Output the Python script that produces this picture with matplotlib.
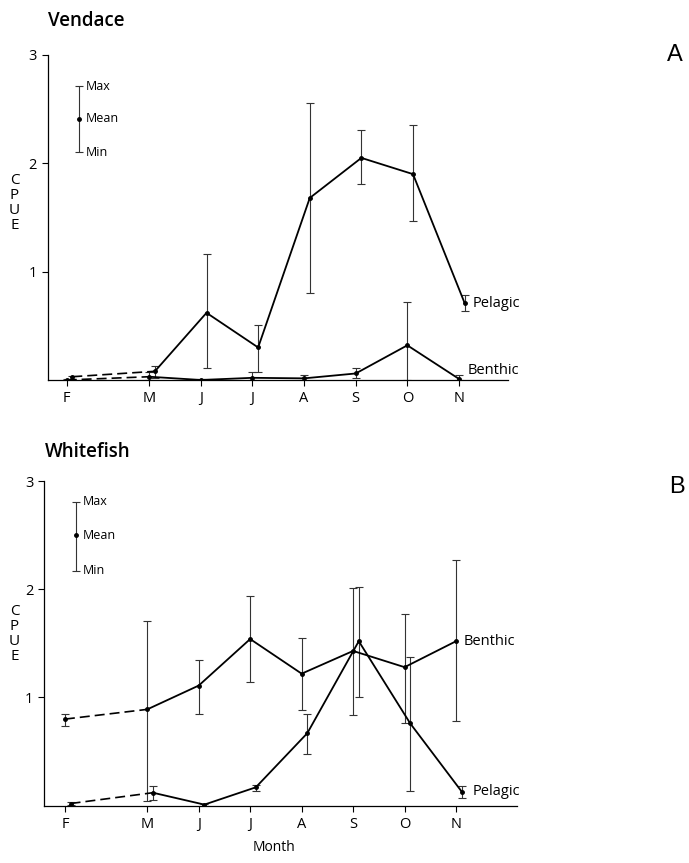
import matplotlib
matplotlib.use('Agg')
import matplotlib.pyplot as plt
import numpy as np

plt.rcParams['font.family'] = ['Open Sans', 'DejaVu Sans']

months = ['F', 'M', 'J', 'J', 'A', 'S', 'O', 'N']
month_pos = [0, 1.6, 2.6, 3.6, 4.6, 5.6, 6.6, 7.6]

# Vendace (panel A)
vendace_pel_mean = [0.03, 0.08, 0.62, 0.30, 1.68, 2.05, 1.90, 0.71]
vendace_pel_min = [0.01, 0.02, 0.11, 0.07, 0.80, 1.81, 1.47, 0.64]
vendace_pel_max = [0.04, 0.13, 1.16, 0.51, 2.56, 2.31, 2.35, 0.78]
vendace_ben_mean = [0.0, 0.03, 0.0, 0.02, 0.015, 0.06, 0.32, 0.01]
vendace_ben_min = [0.0, 0.0, 0.0, 0.0, 0.0, 0.02, 0.0, 0.0]
vendace_ben_max = [0.01, 0.07, 0.01, 0.07, 0.05, 0.11, 0.72, 0.05]

# Whitefish (panel B)
whitefish_ben_mean = [0.80, 0.89, 1.11, 1.54, 1.22, 1.43, 1.28, 1.52]
whitefish_ben_min = [0.74, 0.04, 0.85, 1.14, 0.88, 0.84, 0.76, 0.78]
whitefish_ben_max = [0.85, 1.71, 1.35, 1.94, 1.55, 2.01, 1.77, 2.27]
whitefish_pel_mean = [0.02, 0.12, 0.01, 0.17, 0.67, 1.52, 0.76, 0.13]
whitefish_pel_min = [0.01, 0.05, 0.0, 0.14, 0.48, 1.00, 0.14, 0.07]
whitefish_pel_max = [0.03, 0.18, 0.02, 0.19, 0.85, 2.02, 1.37, 0.18]

pel_offset = 0.11


def draw_series(ax, x, mean, lo, hi):
    x = np.array(x)
    mean = np.array(mean)
    err = [mean - np.array(lo), np.array(hi) - mean]
    ax.errorbar(x, mean, yerr=err, fmt='none', ecolor='#333333', elinewidth=0.8,
                capsize=3, capthick=0.8, zorder=2)
    ax.plot(x[:2], mean[:2], color='black', lw=1.2, ls=(0, (6, 3)), zorder=3)
    ax.plot(x[1:], mean[1:], color='black', lw=1.3, zorder=3)
    ax.plot(x, mean, 'o', color='black', ms=2.5, zorder=4)


def draw_panel(ax, ben, pel, xlim, key_x, key_vals):
    draw_series(ax, month_pos, *ben)
    draw_series(ax, np.array(month_pos) + pel_offset, *pel)

    # key: max / mean / min
    kmax, kmean, kmin = key_vals
    ax.errorbar([key_x], [kmean], yerr=[[kmean - kmin], [kmax - kmean]], fmt='o',
                color='black', ms=2.5, ecolor='#333333', elinewidth=0.8,
                capsize=3, capthick=0.8)
    ax.text(key_x + 0.13, kmax, 'Max', fontsize=9, va='center')
    ax.text(key_x + 0.13, kmean, 'Mean', fontsize=9, va='center')
    ax.text(key_x + 0.13, kmin, 'Min', fontsize=9, va='center')

    ax.set_xlim(*xlim)
    ax.set_ylim(0, 3)
    ax.set_xticks(month_pos)
    ax.set_xticklabels(months, fontsize=10.5)
    ax.set_yticks([1, 2, 3])
    ax.set_yticklabels(['1', '2', '3'], fontsize=10.5)
    ax.tick_params(direction='out', length=4, width=0.8, pad=4)
    ax.spines['top'].set_visible(False)
    ax.spines['right'].set_visible(False)
    ax.spines['left'].set_linewidth(0.9)
    ax.spines['bottom'].set_linewidth(0.9)
    ax.spines['left'].set_bounds(0, 3)


fig = plt.figure(figsize=(6.89, 8.63), dpi=100)

ax1 = fig.add_axes([0.0697, 0.5597, 0.6676, 0.3766])
draw_panel(ax1,
           (vendace_ben_mean, vendace_ben_min, vendace_ben_max),
           (vendace_pel_mean, vendace_pel_min, vendace_pel_max),
           (-0.36, 8.55), 0.24, (2.71, 2.41, 2.10))
ax1.text(month_pos[-1] + pel_offset + 0.15, vendace_pel_mean[-1], 'Pelagic', fontsize=10.5, va='center')
ax1.text(month_pos[-1] + 0.17, 0.09, 'Benthic', fontsize=10.5, va='center')

ax2 = fig.add_axes([0.0643, 0.0664, 0.6865, 0.3762])
draw_panel(ax2,
           (whitefish_ben_mean, whitefish_ben_min, whitefish_ben_max),
           (whitefish_pel_mean, whitefish_pel_min, whitefish_pel_max),
           (-0.40, 8.79), 0.21, (2.81, 2.50, 2.17))
ax2.text(month_pos[-1] + 0.15, whitefish_ben_mean[-1], 'Benthic', fontsize=10.5, va='center')
ax2.text(month_pos[-1] + pel_offset + 0.22, 0.13, 'Pelagic', fontsize=10.5, va='center')

# titles, panel letters, y labels
fig.text(0.070, 0.976, 'Vendace', fontsize=13.5, weight='semibold', va='center')
fig.text(0.065, 0.476, 'Whitefish', fontsize=13.5, weight='semibold', va='center')
fig.text(0.980, 0.936, 'A', fontsize=17, ha='center', va='center', family=['Liberation Sans', 'DejaVu Sans'])
fig.text(0.982, 0.436, 'B', fontsize=17, ha='center', va='center', family=['Liberation Sans', 'DejaVu Sans'])
for yc in (0.765, 0.265):
    fig.text(0.021, yc, 'C\nP\nU\nE', fontsize=11, ha='center', va='center', linespacing=1.0)
fig.text(0.398, 0.009, 'Month', fontsize=10, ha='center', va='bottom')

fig.savefig('out.png', dpi=100)
